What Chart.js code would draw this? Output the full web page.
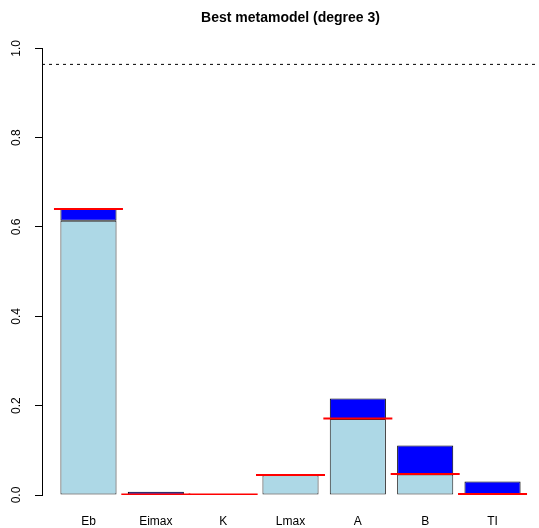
<!DOCTYPE html>
<html>
<head>
<meta charset="utf-8">
<script src="https://cdn.jsdelivr.net/npm/chart.js@4/dist/chart.umd.min.js"></script>
<style>
  body { margin: 0; background: #fff; }
  canvas { display: block; }
</style>
</head>
<body>
<canvas id="siChart" width="539" height="528"></canvas>
<script>
// sensitivity indices
const factors = ["Eb", "Eimax", "K", "Lmax", "A", "B", "TI"];
const firstOrder = [0.614, 0.001, 0.001, 0.044, 0.170, 0.046, 0.001];
const totalIndex = [0.640, 0.007, 0.001, 0.044, 0.216, 0.111, 0.030];
const redMarks = [0.640, 0.001, 0.001, 0.045, 0.171, 0.047, 0.002];
const refLevel = 0.964;
const yTicks = [0, 0.2, 0.4, 0.6, 0.8, 1.0];

// R barplot leaves ~0.69 bar-steps of room on each side
const xPad = 0.69;
const xMin = -xPad;
const xMax = factors.length - 1 + xPad;

Chart.defaults.font.family = "'Liberation Sans', Arial, sans-serif";
Chart.defaults.font.size = 12;
Chart.defaults.color = "#000";

const ctx = document.getElementById("siChart");

const data = {
  datasets: [
    {
      type: "line",
      label: "red",
      stack: "red",
      order: 0,
      data: redMarks.map((v, i) => ({ x: i, y: v })),
      showLine: false,
      pointStyle: "line",
      pointRadius: 34.5,
      pointHoverRadius: 34.5,
      pointBorderColor: "#ff0000",
      pointBorderWidth: 2,
      pointHoverBorderWidth: 2
    },
    {
      type: "line",
      label: "ref",
      stack: "ref",
      order: 1,
      data: [{ x: xMin, y: refLevel }, { x: xMax, y: refLevel }],
      borderColor: "#000",
      borderWidth: 1,
      borderDash: [3, 4],
      pointRadius: 0,
      fill: false
    },
    {
      type: "bar",
      label: "first order",
      stack: "si",
      order: 2,
      data: firstOrder.map((v, i) => ({ x: i, y: v })),
      backgroundColor: "#ADD8E6",
      borderColor: "#222",
      borderWidth: 1,
      borderSkipped: false
    },
    {
      type: "bar",
      label: "total",
      stack: "si",
      order: 2,
      data: totalIndex.map((v, i) => ({ x: i, y: v - firstOrder[i] })),
      backgroundColor: "#0000FF",
      borderColor: "#000",
      borderWidth: 1,
      borderSkipped: false
    }
  ]
};

const config = {
  type: "bar",
  data: data,
  options: {
    responsive: false,
    animation: false,
    events: [],
    layout: { padding: 0, autoPadding: false },
    datasets: {
      bar: { categoryPercentage: 1, barPercentage: 1 / 1.2 }
    },
    plugins: {
      legend: { display: false },
      tooltip: { enabled: false },
      title: {
        display: true,
        fullSize: false,
        text: "Best metamodel (degree 3)",
        font: { size: 14, weight: "bold" },
        color: "#000",
        padding: { top: 10, bottom: 21.5 }
      }
    },
    scales: {
      x: {
        type: "linear",
        stacked: true,
        offset: false,
        min: xMin,
        max: xMax,
        grid: { display: false, offset: false, drawTicks: true, tickLength: 19 },
        border: { display: false },
        afterBuildTicks: axis => {
          axis.ticks = factors.map((f, i) => ({ value: i }));
        },
        afterFit: axis => { axis.height = 33; },
        ticks: {
          padding: 0,
          maxRotation: 0,
          autoSkip: false,
          callback: value => factors[value]
        }
      },
      y: {
        stacked: true,
        min: 0,
        max: 1,
        grid: {
          drawOnChartArea: false,
          drawTicks: true,
          tickLength: 7,
          color: "#000",
          lineWidth: 1
        },
        border: { display: true, color: "#000", width: 1 },
        afterBuildTicks: axis => {
          axis.ticks = yTicks.map(v => ({ value: v }));
        },
        afterFit: axis => { axis.width = 42; },
        ticks: {
          minRotation: 90,
          maxRotation: 90,
          crossAlign: "center",
          padding: 10,
          callback: value => value.toFixed(1)
        }
      }
    }
  }
};

const siChart = new Chart(ctx, config);
</script>
</body>
</html>
